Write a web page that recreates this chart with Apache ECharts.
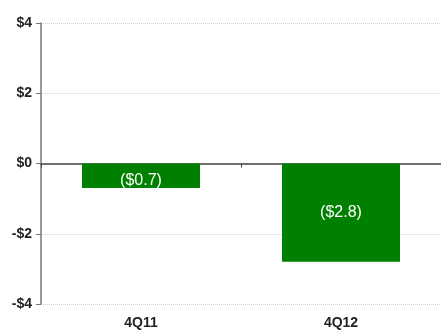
<!DOCTYPE html>
<html><head><meta charset="utf-8">
<script src="https://cdn.jsdelivr.net/npm/echarts@6/dist/echarts.min.js"></script>
<style>html,body{margin:0;padding:0;background:#fff}#c{width:441px;height:334px}</style>
</head><body><div id="c"></div>
<script>
const categories = ['4Q11', '4Q12'];
const values = [-0.7, -2.8];
const barLabels = ['($0.7)', '($2.8)'];
const yTickLabels = {'4': '$4', '2': '$2', '0': '$0', '-2': '-$2', '-4': '-$4'};

const chart = echarts.init(document.getElementById('c'));
chart.setOption({
  animation: false,
  grid: {left: 41, right: 0, top: 23, bottom: 30, containLabel: false},
  xAxis: [{
    type: 'category', data: categories, position: 'bottom',
    axisLine: {onZero: true, lineStyle: {color: '#444', width: 1.5}},
    axisTick: {show: true, length: 4, lineStyle: {color: '#444'}},
    axisLabel: {show: false},
    splitLine: {show: false}
  }, {
    type: 'category', data: categories, position: 'bottom',
    axisLine: {show: false}, axisTick: {show: false},
    axisLabel: {show: true, margin: 12, fontFamily: 'Liberation Sans, Arial', fontWeight: 'bold', fontSize: 14, color: '#222'}
  }],
  yAxis: {
    type: 'value', min: -4, max: 4, interval: 2,
    axisLine: {show: true, lineStyle: {color: '#777', width: 1.5}},
    axisTick: {show: true, length: 5, lineStyle: {color: '#777'}},
    axisLabel: {margin: 9, fontFamily: 'Liberation Sans, Arial', fontWeight: 'bold', fontSize: 14, color: '#222',
      formatter: v => yTickLabels[String(v)]},
    splitLine: {show: true, lineStyle: {color: '#d0d0d0', type: 'dotted', width: 1}}
  },
  series: [{
    type: 'bar', xAxisIndex: 0,
    data: values.map((v, i) => i === 0 ? {value: v, label: {offset: [0, 5]}} : v),
    barWidth: '59%',
    itemStyle: {color: '#008000'},
    label: {show: true, position: 'inside', color: '#fff', fontFamily: 'Liberation Sans, Arial', fontSize: 16,
      formatter: p => barLabels[p.dataIndex]}
  }]
});
</script></body></html>
